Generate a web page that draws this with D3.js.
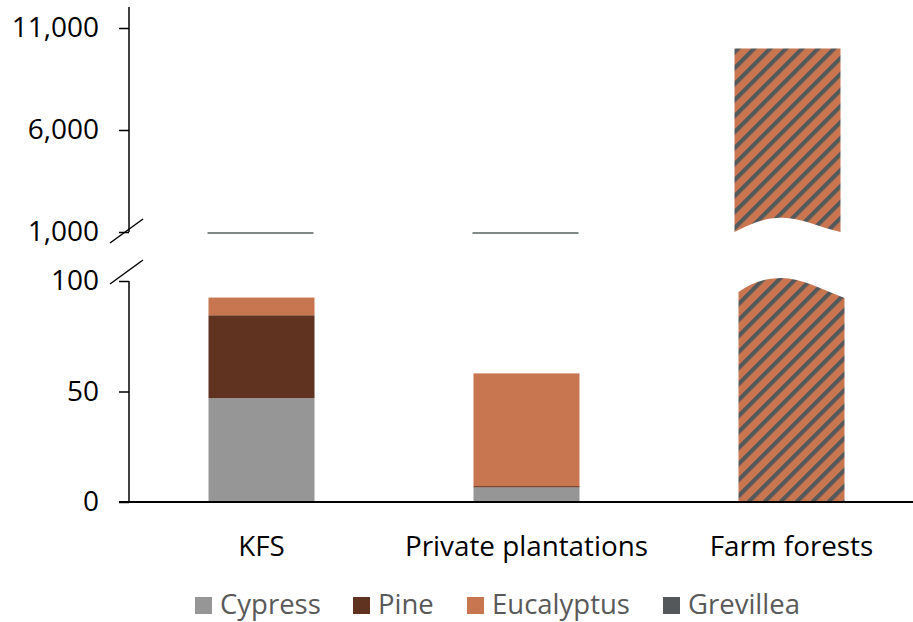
<!DOCTYPE html>
<html lang="en">
<head>
<meta charset="UTF-8">
<title>Plantation area by owner</title>
<style>
  body { margin: 0; background: #fff; }
  svg text { font-family: "Open Sans", Lato, sans-serif; }
</style>
<script src="https://cdn.jsdelivr.net/npm/d3@7"></script>
</head>
<body>
<script>
// data
var categories = ['KFS', 'Private plantations', 'Farm forests'];
var species = ['Cypress', 'Pine', 'Eucalyptus', 'Grevillea'];
var cypress    = [47, 6.6, 0];
var pine       = [37.5, 0.6, 0];
var eucalyptus = [8, 51, 0];
var grevillea  = [0, 0, 0];
// farm forests: eucalyptus + grevillea mixed (hatched bar)
var mixed      = [0, 0, 10000];
var lowTicks = [0, 50, 100];
var highTicks = [1000, 6000, 11000];

var colors = {Cypress: '#969696', Pine: '#603220', Eucalyptus: '#c87650', Grevillea: '#54585a'};

var width = 913, height = 622;
var svg = d3.select('body').append('svg')
  .attr('width', width)
  .attr('height', height);

var defs = svg.append('defs');
var pat = defs.append('pattern')
  .attr('id', 'hatch')
  .attr('patternUnits', 'userSpaceOnUse')
  .attr('width', 11.31)
  .attr('height', 11.31)
  .attr('patternTransform', 'rotate(45)');
pat.append('rect').attr('width', 11.31).attr('height', 11.31).attr('fill', colors.Eucalyptus);
pat.append('rect').attr('width', 4.2).attr('height', 11.31).attr('fill', colors.Grevillea);

var x = d3.scaleBand()
  .domain(categories)
  .range([129, 924])
  .paddingInner(0.6)
  .paddingOuter(0.3);

var yLow = d3.scaleLinear().domain([0, 100]).range([502, 281]);
var yHigh = d3.scaleLinear().domain([1000, 11000]).range([232, 28]);

// stacked bars in the lower panel
var rows = categories.map(function(c, i) {
  return {cat: c, Cypress: cypress[i], Pine: pine[i], Eucalyptus: eucalyptus[i], Grevillea: grevillea[i]};
});
var stack = d3.stack().keys(species)(rows);

svg.append('g').selectAll('g')
  .data(stack)
  .enter().append('g')
  .attr('fill', function(d) { return colors[d.key]; })
  .selectAll('rect')
  .data(function(d) { return d; })
  .enter().append('rect')
  .attr('x', function(d) { return x(d.data.cat); })
  .attr('y', function(d) { return yLow(d[1]); })
  .attr('width', x.bandwidth())
  .attr('height', function(d) { return yLow(d[0]) - yLow(d[1]); });

// bars below 1,000 show as a flat line at the upper panel's base
var totals = categories.map(function(c, i) { return cypress[i] + pine[i] + eucalyptus[i] + grevillea[i]; });
svg.append('g').selectAll('line')
  .data(categories.filter(function(c, i) { return totals[i] > 0 && mixed[i] === 0; }))
  .enter().append('line')
  .attr('x1', function(d) { return x(d) - 1; })
  .attr('x2', function(d) { return x(d) + x.bandwidth() - 1; })
  .attr('y1', yHigh(1000) + 1)
  .attr('y2', yHigh(1000) + 1)
  .attr('stroke', '#7f8a88')
  .attr('stroke-width', 2);

// hatched farm forests bar, broken with a wave
categories.forEach(function(c, i) {
  if (!mixed[i]) return;
  var x0 = x(c) - 4, w = x.bandwidth();
  var top = yHigh(mixed[i]);
  var base = yHigh(1000);
  // upper piece
  svg.append('path')
    .attr('fill', 'url(#hatch)')
    .attr('d', 'M' + x0 + ',' + top + 'H' + (x0 + w) + 'V' + base +
      'C' + (x0 + w * 0.75) + ',' + (base - 6) + ' ' + (x0 + w * 0.6) + ',' + (base - 16) + ' ' + (x0 + w * 0.4) + ',' + (base - 14) +
      'C' + (x0 + w * 0.22) + ',' + (base - 13) + ' ' + (x0 + w * 0.08) + ',' + (base - 4) + ' ' + x0 + ',' + base + 'Z');
  // lower piece
  var lx = x(c), lb = yLow(0), lt = yLow(100);
  svg.append('path')
    .attr('fill', 'url(#hatch)')
    .attr('d', 'M' + lx + ',' + (lt + 11) +
      'C' + (lx + w * 0.12) + ',' + (lt + 2) + ' ' + (lx + w * 0.25) + ',' + (lt - 3) + ' ' + (lx + w * 0.4) + ',' + (lt - 3) +
      'C' + (lx + w * 0.6) + ',' + (lt - 3) + ' ' + (lx + w * 0.8) + ',' + (lt + 9) + ' ' + (lx + w) + ',' + (lt + 17) +
      'V' + lb + 'H' + lx + 'Z');
});

// axes
var tickFont = '28px';
var gHigh = svg.append('g').attr('transform', 'translate(129,0)')
  .call(d3.axisLeft(yHigh).tickValues(highTicks).tickSize(10).tickPadding(20).tickFormat(d3.format(',')));
var gLow = svg.append('g').attr('transform', 'translate(129,0)')
  .call(d3.axisLeft(yLow).tickValues(lowTicks).tickSize(10).tickPadding(20).tickFormat(d3.format(',')));
[gHigh, gLow].forEach(function(g) {
  g.select('.domain').remove();
  g.selectAll('line').attr('stroke', '#000').attr('stroke-width', 1.5);
  g.selectAll('text').attr('font-size', tickFont).attr('fill', '#000')
    .style('font-family', '"Open Sans", Lato, sans-serif');
});

// axis lines
svg.append('line').attr('x1', 129).attr('x2', 129).attr('y1', 7).attr('y2', yHigh(1000))
  .attr('stroke', '#000').attr('stroke-width', 1.5);
svg.append('line').attr('x1', 129).attr('x2', 129).attr('y1', yLow(100)).attr('y2', yLow(0))
  .attr('stroke', '#000').attr('stroke-width', 1.5);
svg.append('line').attr('x1', 119).attr('x2', width).attr('y1', yLow(0)).attr('y2', yLow(0))
  .attr('stroke', '#000').attr('stroke-width', 2);

// break marks
[yHigh(1000), yLow(100)].forEach(function(yy, k) {
  var cy = k === 0 ? yy : yy - 8;
  svg.append('line')
    .attr('x1', 110).attr('y1', cy + 11)
    .attr('x2', 143).attr('y2', cy - 13)
    .attr('stroke', '#000').attr('stroke-width', 1.5);
});

// category labels
svg.append('g').selectAll('text')
  .data(categories)
  .enter().append('text')
  .attr('x', function(d) { return x(d) + x.bandwidth() / 2; })
  .attr('y', 556)
  .attr('text-anchor', 'middle')
  .attr('font-size', '27.8px')
  .attr('fill', '#000')
  .text(function(d) { return d; });

// legend
var legX = [195, 353, 467, 663];
var leg = svg.append('g').selectAll('g')
  .data(species)
  .enter().append('g')
  .attr('transform', function(d, i) { return 'translate(' + legX[i] + ',597)'; });
leg.append('rect').attr('width', 17).attr('height', 17)
  .attr('fill', function(d) { return colors[d]; });
leg.append('text')
  .attr('x', 25).attr('y', 17)
  .attr('font-size', '27.5px')
  .attr('fill', '#595959')
  .text(function(d) { return d; });
</script>
</body>
</html>
